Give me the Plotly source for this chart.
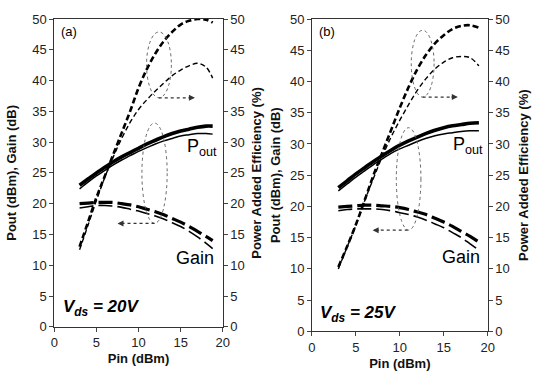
import plotly.graph_objects as go

# ---- Data ----
pin = [3, 4, 5, 6, 7, 8, 9, 10, 11, 12, 13, 14, 15, 16, 17, 18, 18.8]
pin_b = [3, 4, 5, 6, 7, 8, 9, 10, 11, 12, 13, 14, 15, 16, 17, 18, 19]

# (a) Vds = 20V
pout_a_thick = [23.0, 24.0, 25.0, 25.9, 26.8, 27.6, 28.3, 29.0, 29.7, 30.3, 30.9, 31.4, 31.8, 32.1, 32.4, 32.6, 32.6]
pout_a_thin = [22.4, 23.5, 24.5, 25.4, 26.3, 27.1, 27.8, 28.5, 29.1, 29.7, 30.2, 30.6, 31.0, 31.2, 31.4, 31.4, 31.3]
gain_a_thick = [20.0, 20.1, 20.2, 20.2, 20.2, 20.0, 19.8, 19.5, 19.1, 18.7, 18.2, 17.6, 17.0, 16.3, 15.5, 14.7, 14.0]
gain_a_thin = [19.3, 19.5, 19.7, 19.7, 19.6, 19.4, 19.1, 18.8, 18.4, 18.0, 17.5, 16.9, 16.3, 15.5, 14.6, 13.6, 12.7]
pae_a_thick = [13.0, 17.0, 21.0, 24.5, 28.0, 31.5, 35.0, 38.8, 41.9, 44.4, 46.4, 47.9, 49.1, 49.7, 50.0, 49.9, 49.4]
pae_a_thin = [12.5, 16.5, 20.5, 24.3, 27.6, 30.6, 33.2, 35.3, 36.9, 38.3, 39.6, 40.8, 41.7, 42.4, 42.8, 42.2, 40.4]

# (b) Vds = 25V
pout_b_thick = [23.0, 24.1, 25.2, 26.2, 27.2, 28.1, 29.0, 29.8, 30.5, 31.1, 31.7, 32.2, 32.6, 32.9, 33.1, 33.3, 33.4]
pout_b_thin = [22.5, 23.6, 24.7, 25.7, 26.7, 27.6, 28.5, 29.2, 29.8, 30.4, 30.9, 31.3, 31.6, 31.8, 32.0, 32.1, 32.1]
gain_b_thick = [19.9, 20.0, 20.1, 20.2, 20.2, 20.1, 20.0, 19.8, 19.5, 19.1, 18.7, 18.1, 17.5, 16.8, 16.0, 15.2, 14.3]
gain_b_thin = [19.3, 19.5, 19.6, 19.6, 19.6, 19.5, 19.3, 19.0, 18.7, 18.3, 17.8, 17.2, 16.6, 15.8, 15.0, 14.0, 13.0]
pae_b_thick = [10.3, 13.6, 17.1, 21.0, 25.0, 28.6, 32.2, 35.8, 39.1, 42.0, 44.3, 46.1, 47.4, 48.4, 48.9, 49.0, 48.6]
pae_b_thin = [10.0, 13.5, 17.0, 20.9, 24.5, 28.0, 31.1, 33.8, 36.3, 38.6, 40.5, 42.0, 43.1, 43.8, 44.0, 43.8, 42.5]

x_ticks = [0, 5, 10, 15, 20]
y_ticks = [0, 5, 10, 15, 20, 25, 30, 35, 40, 45, 50]

FONT = "Liberation Sans, Arial, sans-serif"
BLACK = "#000000"

fig = go.Figure()

def add_panel(xs, pth, ptn, gth, gtn, eth, etn, xa, ya, ya2):
    fig.add_trace(go.Scatter(x=xs, y=pth, mode="lines", line=dict(color=BLACK, width=3.6, shape="spline"), xaxis=xa, yaxis=ya))
    fig.add_trace(go.Scatter(x=xs, y=ptn, mode="lines", line=dict(color=BLACK, width=1.5, shape="spline"), xaxis=xa, yaxis=ya))
    fig.add_trace(go.Scatter(x=xs, y=gth, mode="lines", line=dict(color=BLACK, width=3.2, dash="14px,5px", shape="spline"), xaxis=xa, yaxis=ya))
    fig.add_trace(go.Scatter(x=xs, y=gtn, mode="lines", line=dict(color=BLACK, width=1.6, dash="14px,5px", shape="spline"), xaxis=xa, yaxis=ya))
    fig.add_trace(go.Scatter(x=xs, y=eth, mode="lines", line=dict(color=BLACK, width=2.6, dash="6px,3px", shape="spline"), xaxis=xa, yaxis=ya2))
    fig.add_trace(go.Scatter(x=xs, y=etn, mode="lines", line=dict(color=BLACK, width=1.4, dash="5px,3px", shape="spline"), xaxis=xa, yaxis=ya2))

add_panel(pin, pout_a_thick, pout_a_thin, gain_a_thick, gain_a_thin, pae_a_thick, pae_a_thin, "x", "y", "y2")
add_panel(pin_b, pout_b_thick, pout_b_thin, gain_b_thick, gain_b_thin, pae_b_thick, pae_b_thin, "x2", "y3", "y4")

tickfont = dict(family=FONT, size=13, color="#222")
titlefont = dict(family=FONT, size=13, color="#111")

def xaxis_cfg(domain, anchor):
    return dict(domain=domain, anchor=anchor, range=[0, 20], tickvals=x_ticks, ticks="outside", ticklen=4,
                showline=True, linecolor="#333", linewidth=1, mirror=True, showgrid=False, zeroline=False,
                automargin=False,
                tickfont=tickfont, title=dict(text="<b>Pin (dBm)</b>", font=titlefont, standoff=4))

def yaxis_cfg(domain, anchor, title, standoff):
    return dict(domain=domain, anchor=anchor, range=[0, 50], tickvals=y_ticks, ticks="outside", ticklen=4,
                showline=True, linecolor="#333", linewidth=1, showgrid=False, zeroline=False,
                automargin=False,
                tickfont=tickfont, title=dict(text=title, font=titlefont, standoff=standoff))

ya_dom = [0.140, 0.95]
yb_dom = [0.128, 0.95]
lefttitle = "<b>Pout (dBm), Gain (dB)</b>"
righttitle = "<b>Power Added Efficiency (%)</b>"

fig.update_layout(
    width=542, height=380,
    margin=dict(l=0, r=0, t=0, b=0),
    paper_bgcolor="white", plot_bgcolor="white",
    showlegend=False,
    xaxis=xaxis_cfg([0.1002, 0.411], "y"),
    yaxis=yaxis_cfg(ya_dom, "x", lefttitle, 12),
    yaxis2=dict(yaxis_cfg(ya_dom, "x", righttitle, 8), overlaying="y", side="right"),
    xaxis2=xaxis_cfg([0.5756, 0.8998], "y3"),
    yaxis3=yaxis_cfg(yb_dom, "x2", lefttitle, 6),
    yaxis4=dict(yaxis_cfg(yb_dom, "x2", righttitle, 10), overlaying="y3", side="right"),
)

# ---- Annotations: ellipses and dotted arrows ----
ell = dict(type="circle", line=dict(color="#666", width=1, dash="dot"))
shapes = [
    dict(ell, xref="x", yref="y", x0=10.95, x1=13.9, y0=37.2, y1=47.9),
    dict(ell, xref="x", yref="y", x0=10.4, x1=13.4, y0=16.8, y1=33.1),
    dict(ell, xref="x2", yref="y3", x0=11.3, x1=13.9, y0=37.5, y1=48.2),
    dict(ell, xref="x2", yref="y3", x0=9.6, x1=12.4, y0=16.2, y1=32.6),
]
arr = dict(type="line", line=dict(color="#333", width=1.2, dash="dot"))
shapes += [
    dict(arr, xref="x", yref="y", x0=12.4, x1=16.5, y0=37.2, y1=37.2),
    dict(arr, xref="x", yref="y", x0=11.9, x1=7.7, y0=16.8, y1=16.8),
    dict(arr, xref="x2", yref="y3", x0=12.6, x1=16.4, y0=37.5, y1=37.5),
    dict(arr, xref="x2", yref="y3", x0=10.9, x1=7.1, y0=16.2, y1=16.2),
]
fig.update_layout(shapes=shapes)

def arrowhead(xr, yr, x, y, direction):
    fig.add_annotation(xref=xr, yref=yr, x=x, y=y, ax=-8 * direction, ay=0, text="", showarrow=True,
                       arrowhead=2, arrowsize=1.2, arrowwidth=1, arrowcolor="#333")

arrowhead("x", "y", 16.7, 37.2, 1)
arrowhead("x", "y", 7.5, 16.8, -1)
arrowhead("x2", "y3", 16.6, 37.5, 1)
arrowhead("x2", "y3", 6.9, 16.2, -1)

txt = dict(family=FONT, size=18, color=BLACK)
lab = dict(family=FONT, size=13, color=BLACK)
fig.add_annotation(xref="x", yref="y", x=0.6, y=48.0, text="(a)", showarrow=False, xanchor="left", font=lab)
fig.add_annotation(xref="x2", yref="y3", x=0.6, y=48.0, text="(b)", showarrow=False, xanchor="left", font=lab)
fig.add_annotation(xref="x", yref="y", x=15.5, y=29.2, text="P<sub>out</sub>", showarrow=False, xanchor="left", font=txt)
fig.add_annotation(xref="x2", yref="y3", x=15.8, y=29.8, text="P<sub>out</sub>", showarrow=False, xanchor="left", font=txt)
fig.add_annotation(xref="x", yref="y", x=19.2, y=11.2, text="Gain", showarrow=False, xanchor="right", font=txt)
fig.add_annotation(xref="x2", yref="y3", x=19.4, y=11.9, text="Gain", showarrow=False, xanchor="right", font=txt)
vfont = dict(family=FONT, size=17, color=BLACK)
fig.add_annotation(xref="x", yref="y", x=0.8, y=3.0, text="<b><i>V<sub>ds</sub> = 20V</i></b>", showarrow=False, xanchor="left", font=vfont)
fig.add_annotation(xref="x2", yref="y3", x=0.7, y=2.7, text="<b><i>V<sub>ds</sub> = 25V</i></b>", showarrow=False, xanchor="left", font=vfont)

fig.write_html("out.html", config={"displayModeBar": False},
               post_script="document.body.style.margin='0';document.body.style.overflow='hidden';")
